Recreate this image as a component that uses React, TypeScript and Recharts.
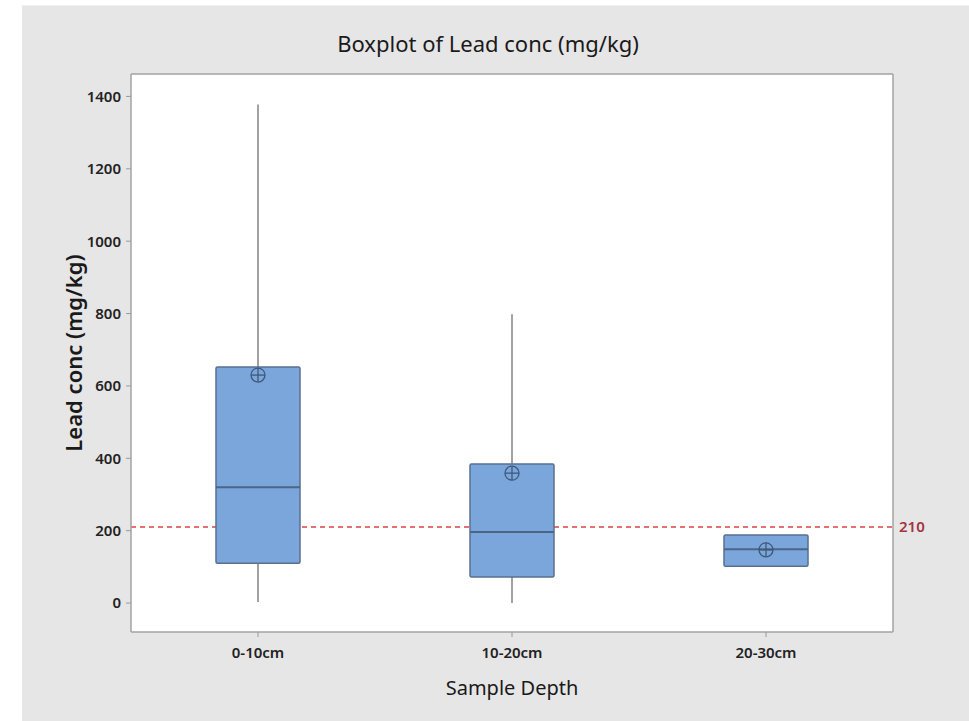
import React from "react";
import {
  ComposedChart,
  Bar,
  Scatter,
  XAxis,
  YAxis,
  CartesianGrid,
  ReferenceLine,
} from "recharts";

const categories = ["0-10cm", "10-20cm", "20-30cm"];
const whiskerLow = [3, 0, 102];
const q1Vals = [110, 72, 102];
const medianVals = [320, 196, 149];
const q3Vals = [652, 384, 188];
const whiskerHigh = [1378, 798, 188];
const meanVals = [630, 359, 147];
const yTicks = [0, 200, 400, 600, 800, 1000, 1200, 1400];
const limitValue = 210;

const BOX_W = 84;
const FONT = "'Noto Sans', 'Open Sans', sans-serif";
const FRAME = "#a3a3a3";

const data = categories.map((name, i) => ({
  name,
  whisker: [whiskerLow[i], whiskerHigh[i]],
  box: [q1Vals[i], q3Vals[i]],
  median: medianVals[i],
  mean: meanVals[i],
}));

const WhiskerShape = (p: any) => {
  const cx = p.x + p.width / 2;
  const top = Math.min(p.y, p.y + p.height);
  const h = Math.abs(p.height);
  return <line x1={cx} x2={cx} y1={top} y2={top + h} stroke="#707070" strokeWidth={1.3} />;
};

const BoxShape = (p: any) => {
  const top = Math.min(p.y, p.y + p.height);
  const h = Math.abs(p.height);
  return (
    <rect
      x={p.x}
      y={top}
      width={p.width}
      height={h}
      fill="#7ba6dc"
      stroke="#58708f"
      strokeWidth={1.5}
      rx={1.5}
    />
  );
};

const MedianShape = (p: any) => (
  <line
    x1={p.cx - BOX_W / 2}
    x2={p.cx + BOX_W / 2}
    y1={p.cy}
    y2={p.cy}
    stroke="#4c6485"
    strokeWidth={2}
  />
);

const MeanShape = (p: any) => {
  const r = 7;
  return (
    <g stroke="#3f5878" strokeWidth={1.3} fill="none">
      <circle cx={p.cx} cy={p.cy} r={r} />
      <line x1={p.cx - r} x2={p.cx + r} y1={p.cy} y2={p.cy} />
      <line x1={p.cx} x2={p.cx} y1={p.cy - r} y2={p.cy + r} />
    </g>
  );
};

export default function App() {
  return (
    <div
      style={{
        position: "absolute",
        left: 0,
        top: 0,
        width: 969,
        height: 721,
        background: "#fff",
        fontFamily: FONT,
        overflow: "hidden",
      }}
    >
      <div
        style={{
          position: "absolute",
          left: 22,
          top: 5,
          right: 0,
          bottom: 0,
          background: "#e6e6e6",
          borderTop: "1px solid #f0f0f0",
        }}
      />
      <div
        style={{
          position: "absolute",
          left: 0,
          top: 29,
          width: 976,
          textAlign: "center",
          fontSize: 22,
          lineHeight: "28px",
          color: "#1a1a1a",
        }}
      >
        Boxplot of Lead conc (mg/kg)
      </div>
      <div style={{ position: "absolute", left: 0, top: 0 }}>
        <ComposedChart
          width={969}
          height={721}
          data={data}
          margin={{ top: 73, right: 75, bottom: 0, left: 0 }}
          barSize={BOX_W}
          barGap={-BOX_W}
          style={{ fontFamily: FONT }}
        >
          <CartesianGrid horizontal={false} vertical={false} fill="#ffffff" fillOpacity={1} />
          <XAxis
            dataKey="name"
            height={89}
            tickSize={5}
            tickMargin={10}
            axisLine={{ stroke: FRAME, strokeWidth: 1.5 }}
            tickLine={{ stroke: "#9a9a9a" }}
            tick={{ fontSize: 15, fill: "#222", fontWeight: 600 }}
            label={{
              value: "Sample Depth",
              position: "insideBottom",
              offset: 26,
              fontSize: 20,
              fill: "#1a1a1a",
            }}
          />
          <XAxis
            xAxisId="top"
            dataKey="name"
            orientation="top"
            height={1}
            tick={false}
            tickLine={false}
            axisLine={{ stroke: FRAME, strokeWidth: 1.5 }}
          />
          <YAxis
            type="number"
            domain={[-80, 1462]}
            ticks={yTicks}
            width={131}
            tickSize={5}
            tickMargin={5}
            axisLine={{ stroke: FRAME, strokeWidth: 1.5 }}
            tickLine={{ stroke: "#9a9a9a" }}
            tick={{ fontSize: 15, fill: "#222", fontWeight: 600 }}
            allowDataOverflow
            label={{
              value: "Lead conc (mg/kg)",
              angle: -90,
              position: "insideLeft",
              offset: 74,
              fontSize: 22,
              fontWeight: 600,
              fill: "#1a1a1a",
              style: { textAnchor: "middle" },
            }}
          />
          <YAxis
            yAxisId="right"
            orientation="right"
            type="number"
            domain={[-80, 1462]}
            width={1}
            tick={false}
            tickLine={false}
            axisLine={{ stroke: FRAME, strokeWidth: 1.5 }}
          />
          <ReferenceLine
            y={limitValue}
            zIndex={250}
            stroke="#dd4444"
            strokeWidth={1.5}
            strokeDasharray="5 4"
            label={{ value: String(limitValue), position: "right", offset: 6, fill: "#a3343f", fontSize: 15, fontWeight: 600 }}
          />
          <Bar dataKey="whisker" shape={WhiskerShape} isAnimationActive={false} />
          <Bar dataKey="box" shape={BoxShape} isAnimationActive={false} />
          <Scatter dataKey="median" shape={MedianShape} isAnimationActive={false} />
          <Scatter dataKey="mean" shape={MeanShape} isAnimationActive={false} />
        </ComposedChart>
      </div>
    </div>
  );
}
